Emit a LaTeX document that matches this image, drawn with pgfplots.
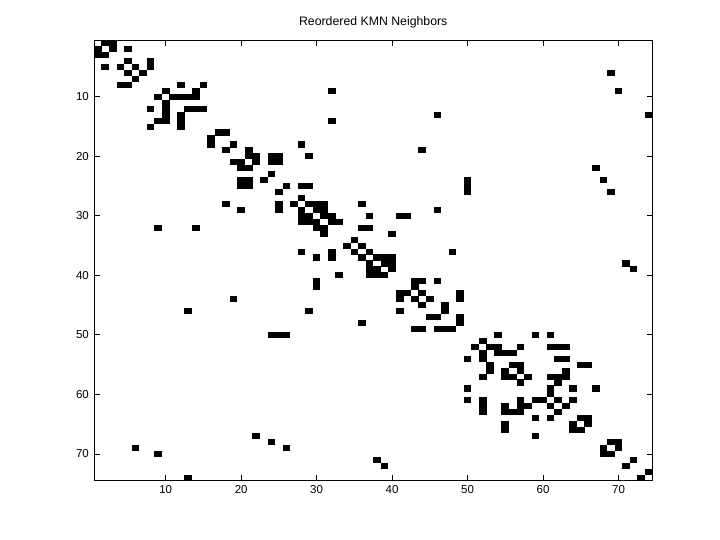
\documentclass[border=0pt]{standalone}
\usepackage{pgfplots}
\pgfplotsset{compat=1.18}
\usepackage{fontspec}
\setmainfont{Liberation Sans}
\pgfdeclareplotmark{cell}{\pgfpathrectangle{\pgfpoint{-3.85pt}{-3.05pt}}{\pgfpoint{7.7pt}{6.1pt}}\pgfusepathqfill}
\begin{document}
\begin{tikzpicture}
\path[use as bounding box] (0,0) rectangle (720pt,540pt);
\begin{axis}[
  at={(94pt,59.3pt)}, anchor=south west,
  scale only axis, width=558.5pt, height=440.4pt,
  xmin=0.5, xmax=74.5, ymin=0.5, ymax=74.5, y dir=reverse,
  xtick={10,20,...,70}, ytick={10,20,...,70},
  tick align=inside, tick pos=both, major tick length=5.5pt,
  axis line style={line width=0.8pt},
  tick style={black, line width=0.8pt},
  ticklabel style={font=\fontsize{11.5}{13}\selectfont},
  /pgf/number format/assume math mode=true,
  xticklabel style={inner sep=0pt, yshift=-5pt},
  yticklabel style={inner sep=0pt, xshift=-5pt},
  title={Reordered KMN Neighbors},
  title style={font=\fontsize{12.3}{14}\selectfont, at={(0.5,1)}, anchor=base, yshift=9pt},
]
\addplot[only marks, mark=cell, black] table {
x y
2 1
3 1
1 2
3 2
5 2
1 3
2 3
5 4
8 4
2 5
4 5
6 5
8 5
5 6
7 6
69 6
6 7
4 8
5 8
12 8
15 8
10 9
14 9
32 9
70 9
9 10
11 10
12 10
13 10
14 10
10 11
8 12
10 12
13 12
14 12
15 12
10 13
12 13
46 13
74 13
9 14
10 14
12 14
32 14
8 15
12 15
17 16
18 16
16 17
16 18
19 18
28 18
18 19
21 19
44 19
21 20
22 20
24 20
25 20
29 20
19 21
20 21
22 21
24 21
25 21
20 22
21 22
67 22
24 23
20 24
21 24
23 24
50 24
68 24
20 25
21 25
26 25
28 25
29 25
50 25
25 26
50 26
69 26
28 27
18 28
25 28
27 28
29 28
30 28
31 28
36 28
20 29
25 29
28 29
30 29
31 29
46 29
28 30
29 30
31 30
32 30
37 30
41 30
42 30
28 31
29 31
30 31
32 31
33 31
9 32
14 32
30 32
31 32
36 32
37 32
31 33
40 33
35 34
34 35
36 35
28 36
32 36
35 36
37 36
48 36
30 37
32 37
36 37
38 37
39 37
40 37
37 38
39 38
40 38
71 38
37 39
38 39
40 39
72 39
33 40
37 40
38 40
39 40
30 41
43 41
44 41
46 41
30 42
43 42
41 43
42 43
44 43
49 43
19 44
41 44
43 44
45 44
49 44
44 45
47 45
13 46
29 46
41 46
47 46
45 47
46 47
49 47
36 48
49 48
43 49
44 49
46 49
47 49
48 49
24 50
25 50
26 50
54 50
59 50
61 50
52 51
51 52
53 52
54 52
57 52
61 52
62 52
63 52
52 53
54 53
55 53
56 53
50 54
52 54
62 54
63 54
53 55
56 55
57 55
65 55
66 55
53 56
55 56
57 56
63 56
52 57
55 57
56 57
58 57
61 57
62 57
63 57
57 58
62 58
50 59
61 59
64 59
67 59
61 60
50 61
52 61
57 61
59 61
60 61
62 61
64 61
52 62
55 62
57 62
58 62
61 62
63 62
52 63
55 63
56 63
57 63
62 63
59 64
61 64
65 64
66 64
55 65
64 65
66 65
55 66
64 66
65 66
22 67
59 67
24 68
69 68
70 68
6 69
26 69
68 69
70 69
9 70
68 70
69 70
38 71
72 71
39 72
71 72
74 73
13 74
73 74
};
\end{axis}
\end{tikzpicture}
\end{document}
